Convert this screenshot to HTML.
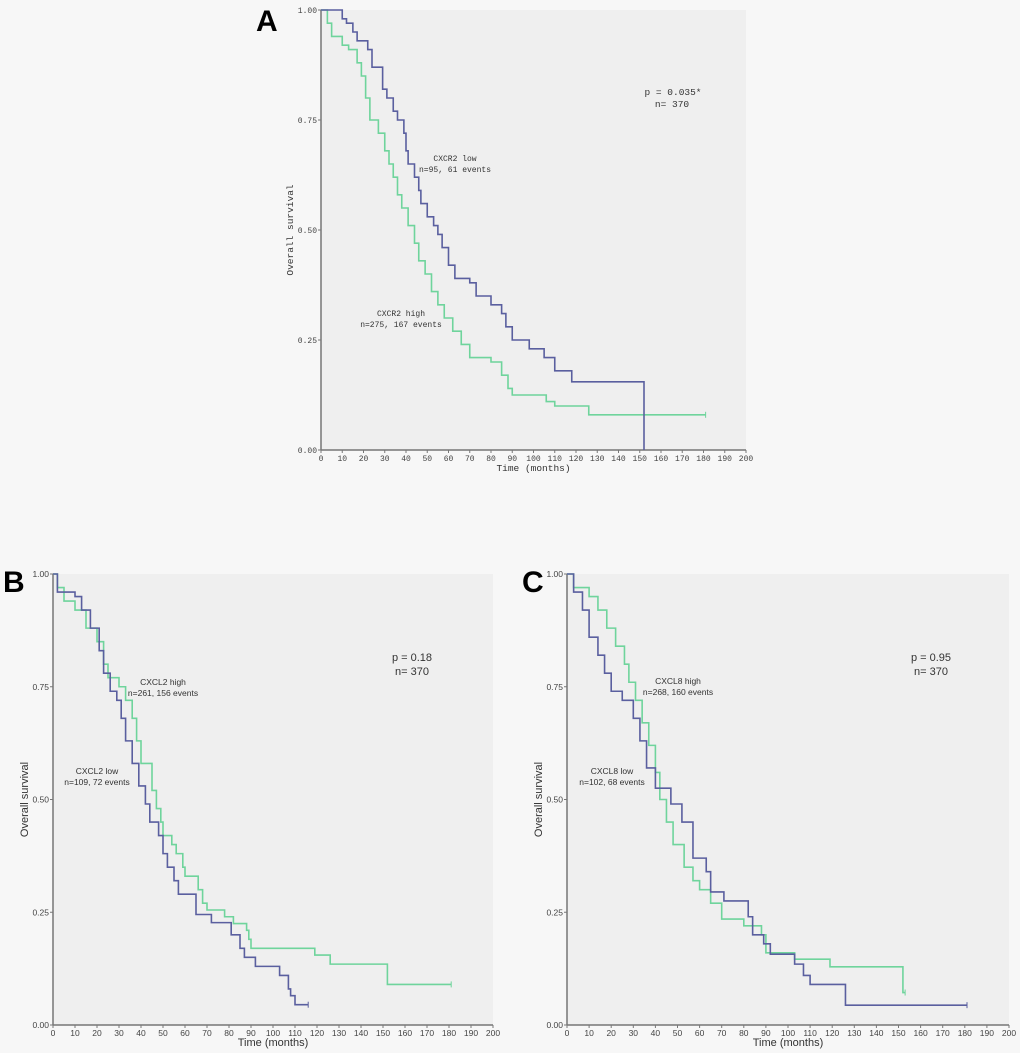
<!DOCTYPE html>
<html><head><meta charset="utf-8"><style>
html,body{margin:0;padding:0;background:#f7f7f7;}
svg{display:block;}
</style></head><body>
<svg id="chart" width="1020" height="1053" xmlns="http://www.w3.org/2000/svg">
<rect width="1020" height="1053" fill="#f7f7f7"/>
</svg>
<script>
// Panel A: CXCR2
const aLowT=[0,10,12,15,17,22,24,29,31,34,36,39,40,41,44,46,47,50,53,55,57,60,63,70,73,80,85,87,90,98,105,110,118,152];
const aLowS=[1,0.98,0.97,0.95,0.93,0.91,0.87,0.82,0.80,0.77,0.75,0.72,0.68,0.65,0.62,0.59,0.56,0.53,0.51,0.49,0.46,0.42,0.39,0.38,0.35,0.33,0.31,0.28,0.25,0.23,0.21,0.18,0.155,0];
const aLowEnd=152;
const aHighT=[0,3,5,10,13,17,19,21,23,27,30,32,34,36,38,41,44,46,49,52,55,58,62,66,70,80,85,88,90,106,110,126];
const aHighS=[1,0.97,0.94,0.92,0.91,0.88,0.85,0.80,0.75,0.72,0.68,0.65,0.62,0.58,0.55,0.51,0.47,0.43,0.40,0.36,0.33,0.30,0.27,0.24,0.21,0.20,0.17,0.14,0.125,0.11,0.10,0.08];
const aHighEnd=181;
// Panel B: CXCL2
const bLowT=[0,2,10,13,17,21,23,26,29,31,33,36,39,42,44,48,50,52,55,57,65,72,81,85,87,92,103,107,108,110];
const bLowS=[1,0.96,0.95,0.92,0.88,0.83,0.78,0.74,0.72,0.68,0.63,0.58,0.53,0.49,0.45,0.42,0.38,0.35,0.32,0.29,0.245,0.227,0.20,0.17,0.15,0.13,0.11,0.08,0.065,0.045];
const bLowEnd=116;
const bHighT=[0,2,5,10,15,20,23,25,30,33,36,38,40,45,47,49,50,54,56,59,60,66,68,70,78,82,88,89,90,119,126,152];
const bHighS=[1,0.97,0.94,0.92,0.88,0.85,0.80,0.77,0.75,0.72,0.68,0.63,0.58,0.52,0.48,0.45,0.42,0.40,0.38,0.35,0.33,0.30,0.27,0.255,0.24,0.225,0.21,0.19,0.17,0.155,0.135,0.09];
const bHighEnd=181;
// Panel C: CXCL8
const cLowT=[0,3,7,10,14,17,20,25,30,33,36,40,47,52,57,63,65,71,82,84,89,92,103,107,110,126];
const cLowS=[1,0.96,0.92,0.86,0.82,0.78,0.74,0.72,0.68,0.63,0.57,0.525,0.49,0.45,0.37,0.34,0.295,0.275,0.24,0.20,0.18,0.157,0.135,0.11,0.09,0.044];
const cLowEnd=181;
const cHighT=[0,3,10,14,18,22,26,28,31,34,37,40,42,45,48,53,57,60,65,70,80,88,90,103,119,152];
const cHighS=[1,0.97,0.95,0.92,0.88,0.84,0.80,0.76,0.72,0.67,0.62,0.56,0.50,0.45,0.40,0.35,0.32,0.30,0.27,0.235,0.22,0.20,0.16,0.146,0.129,0.072];
const cHighEnd=153;
const xTicks=[0,10,20,30,40,50,60,70,80,90,100,110,120,130,140,150,160,170,180,190,200];
const yTicks=[0,0.25,0.5,0.75,1];
const yTickLabels=["0.00","0.25","0.50","0.75","1.00"];

const NS="http://www.w3.org/2000/svg";
const svg=document.getElementById('chart');
function mk(tag,attrs,parent){const e=document.createElementNS(NS,tag);for(const k in attrs)e.setAttribute(k,attrs[k]);(parent||svg).appendChild(e);return e;}
const BLUE="#5a5f9f", GREEN="#6fd49c";

function panel(cfg){
  const g=mk('g',{});
  
  
  const x=t=>cfg.x0+(cfg.x1-cfg.x0)*t/200;
  const y=s=>cfg.y0-(cfg.y0-cfg.y1)*s;
  const bg=mk('rect',{x:cfg.x0,y:cfg.y1,width:cfg.x1-cfg.x0,height:cfg.y0-cfg.y1,fill:'#efefef'},g);
  
  
  const ff=cfg.mono?'"Liberation Mono", monospace':'"Liberation Sans", sans-serif';
  const fs=cfg.mono?8:8.5;
  const ya=mk('line',{x1:cfg.x0,y1:cfg.y1,x2:cfg.x0,y2:cfg.y0,stroke:'#777','stroke-width':1.5},g);
  
  
  const xa=mk('line',{x1:cfg.x0,y1:cfg.y0,x2:cfg.x1,y2:cfg.y0,stroke:'#777','stroke-width':1.5},g);
  
  
  xTicks.forEach(v=>{
    mk('line',{x1:x(v),y1:cfg.y0,x2:x(v),y2:cfg.y0+3,stroke:'#777'},g);
    const t=mk('text',{x:x(v),y:cfg.y0+11,'font-size':fs,'font-family':ff,'text-anchor':'middle',fill:'#444'},g);
    t.textContent=v;
    
    
  });
  yTicks.forEach((v,i)=>{
    mk('line',{x1:cfg.x0-3,y1:y(v),x2:cfg.x0,y2:y(v),stroke:'#777'},g);
    const t=mk('text',{x:cfg.x0-4,y:y(v)+3,'font-size':fs,'font-family':ff,'text-anchor':'end',fill:'#444'},g);
    t.textContent=yTickLabels[i];
    
    
  });
  const xt=mk('text',{x:(cfg.x0+cfg.x1)/2,y:cfg.y0+21,'font-size':cfg.mono?9.5:11,'font-family':ff,'text-anchor':'middle',fill:'#333'},g);
  xt.textContent='Time (months)';
  
  
  const yx=cfg.x0-(cfg.mono?28:25), yy=(cfg.y0+cfg.y1)/2;
  const yt=mk('text',{x:yx,y:yy,'font-size':cfg.mono?9.5:11,'font-family':ff,'text-anchor':'middle',fill:'#333',transform:`rotate(-90 ${yx} ${yy})`},g);
  yt.textContent='Overall survival';
  
  
  cfg.series.forEach(s=>{
    let d=`M${x(s.t[0])},${y(s.s[0])}`;
    for(let i=1;i<s.t.length;i++){d+=` H${x(s.t[i])} V${y(s.s[i])}`;}
    d+=` H${x(s.end)}`;
    const p=mk('path',{d:d,fill:'none',stroke:s.color,'stroke-width':1.6},g);
    
    
    const last=s.s[s.s.length-1];
    if(last>0){
      const c=mk('line',{x1:x(s.end),y1:y(last)-3,x2:x(s.end),y2:y(last)+3,stroke:s.color,'stroke-width':1},g);
      
      
    }
  });
  cfg.labels.forEach(l=>{
    const t=mk('text',{x:l.x,y:l.y,'font-size':l.fs||fs,'font-family':ff,'text-anchor':'middle',fill:'#333'},g);
    t.textContent=l.text;
    
    
  });
  const L=mk('text',{x:cfg.lx,y:cfg.ly,'font-size':30,'font-weight':'bold','font-family':'"Liberation Sans", sans-serif',fill:'#000'},g);
  L.textContent=cfg.letter;
  
  
}

panel({name:'panel-a',x0:321,x1:746,y0:450,y1:10,mono:true,letter:'A',lx:256,ly:31,
  series:[{t:aHighT,s:aHighS,end:aHighEnd,color:GREEN,name:'cxcr2-high-curve'},{t:aLowT,s:aLowS,end:aLowEnd,color:BLUE,name:'cxcr2-low-curve'}],
  labels:[{x:673,y:95,text:'p = 0.035*',fs:9.5,name:'p-value'},{x:672,y:107,text:'n= 370',fs:9.5,name:'n-total'},
    {x:455,y:161,text:'CXCR2 low',name:'cxcr2-low-label'},{x:455,y:172,text:'n=95, 61 events',name:'cxcr2-low-n'},
    {x:401,y:316,text:'CXCR2 high',name:'cxcr2-high-label'},{x:401,y:327,text:'n=275, 167 events',name:'cxcr2-high-n'}]});
panel({name:'panel-b',x0:53,x1:493,y0:1025,y1:574,mono:false,letter:'B',lx:3,ly:592,
  series:[{t:bHighT,s:bHighS,end:bHighEnd,color:GREEN,name:'cxcl2-high-curve'},{t:bLowT,s:bLowS,end:bLowEnd,color:BLUE,name:'cxcl2-low-curve'}],
  labels:[{x:412,y:661,text:'p = 0.18',fs:11,name:'p-value'},{x:412,y:675,text:'n= 370',fs:11,name:'n-total'},
    {x:163,y:685,text:'CXCL2 high',name:'cxcl2-high-label'},{x:163,y:696,text:'n=261, 156 events',name:'cxcl2-high-n'},
    {x:97,y:774,text:'CXCL2 low',name:'cxcl2-low-label'},{x:97,y:785,text:'n=109, 72 events',name:'cxcl2-low-n'}]});
panel({name:'panel-c',x0:567,x1:1009,y0:1025,y1:574,mono:false,letter:'C',lx:522,ly:592,
  series:[{t:cHighT,s:cHighS,end:cHighEnd,color:GREEN,name:'cxcl8-high-curve'},{t:cLowT,s:cLowS,end:cLowEnd,color:BLUE,name:'cxcl8-low-curve'}],
  labels:[{x:931,y:661,text:'p = 0.95',fs:11,name:'p-value'},{x:931,y:675,text:'n= 370',fs:11,name:'n-total'},
    {x:678,y:684,text:'CXCL8 high',name:'cxcl8-high-label'},{x:678,y:695,text:'n=268, 160 events',name:'cxcl8-high-n'},
    {x:612,y:774,text:'CXCL8 low',name:'cxcl8-low-label'},{x:612,y:785,text:'n=102, 68 events',name:'cxcl8-low-n'}]});
</script>
</body></html>
